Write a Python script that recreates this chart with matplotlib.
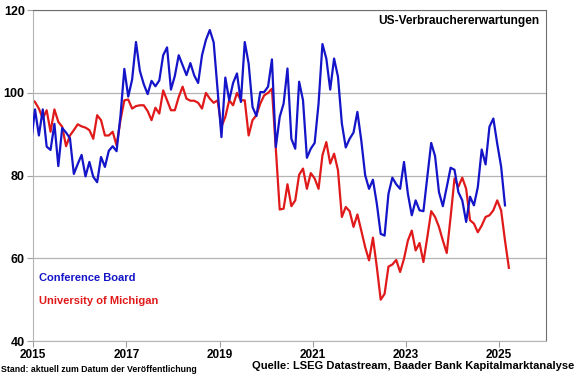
import numpy as np
import matplotlib
matplotlib.use("Agg")
import matplotlib.pyplot as plt

plt.rcParams["font.family"] = ["Liberation Sans", "DejaVu Sans"]
plt.rcParams["font.weight"] = "bold"

# monthly values, first value = Dec 2014
cb_values = [
    88,
    96, 89.7, 96, 87, 86.2, 92.5, 82.3, 91.5, 90.4, 89, 80.4, 82.8,
    85, 79.8, 83.3, 79.7, 78.4, 84.5, 82.1, 86, 87.1, 85.9, 94.4, 105.8,
    99.1, 103.2, 112.3, 105.3, 102.1, 99.7, 102.9, 101.6, 103, 109.1, 111, 100.8,
    104.1, 109.1, 106.7, 104.3, 107.2, 104.2, 102.4, 109.1, 112.8, 115.2, 112.2, 100.8,
    89.3, 103.7, 98.2, 102.4, 104.7, 97.8, 112.3, 107.1, 96.6, 94.4, 100.2, 100.2,
    101.5, 108.1, 86.9, 94.2, 97.4, 105.9, 88.9, 86.5, 102.7, 98.2, 84.3, 86.5,
    87.9, 97.4, 111.8, 108.3, 100.8, 108.3, 103.9, 92.6, 86.8, 88.9, 90.4, 95.4,
    88.5, 80.1, 76.8, 79, 73.2, 65.9, 65.5, 75.6, 79.5, 77.9, 76.8, 83.3,
    75.6, 70.4, 74, 71.6, 71.4, 79.7, 87.9, 84.7, 76, 72.6, 77.2, 81.9,
    81.4, 76, 74, 68.8, 74.9, 72.8, 77.2, 86.3, 82.7, 91.8, 93.8, 87.7,
    82.2, 72.8,
]
um_values = [
    98.5,
    97.8, 96.2, 93.8, 95.8, 90.6, 96, 93, 91.8, 87.1, 89.7, 91, 92.4,
    91.9, 91.6, 91, 88.9, 94.6, 93.4, 89.7, 89.7, 90.6, 87.3, 93.4, 98.2,
    98.4, 96.2, 96.8, 97, 97, 95.6, 93.4, 96.4, 95, 100.6, 98.2, 95.8,
    95.8, 99, 101.5, 98.6, 98.1, 98.1, 97.6, 96.2, 100, 98.6, 97.6, 98.2,
    91.8, 94.2, 98.2, 97, 100, 98.2, 98.2, 89.7, 93.4, 94.6, 97.4, 99.4,
    100, 101, 86.5, 71.8, 72, 77.9, 72.6, 74, 80.2, 81.7, 76.8, 80.6,
    79.3, 76.8, 84.9, 88.1, 82.9, 85.3, 81.3, 70, 72.4, 71.4, 67.6, 70.6,
    66.7, 62.7, 59.5, 65, 57.9, 50, 51.4, 58, 58.5, 59.6, 56.7, 59.9,
    64.3, 66.7, 61.9, 63.7, 59.1, 65.1, 71.4, 70, 67.6, 64.3, 61.3, 70,
    79.3, 77.3, 79.5, 76.8, 69.2, 68.4, 66.3, 67.9, 70, 70.4, 71.6, 74,
    71.6, 64.3, 57.7,
]
year_ticks = [2015, 2017, 2019, 2021, 2023, 2025]
value_ticks = [40, 60, 80, 100, 120]

# mid-month positions in decimal years, starting Dec 2014
cb_x = 2015 + (np.arange(len(cb_values)) - 0.5) / 12
um_x = 2015 + (np.arange(len(um_values)) - 0.5) / 12

fig = plt.figure(figsize=(5.8, 3.76), dpi=100)
ax = fig.add_axes([0.057, 0.093, 0.884, 0.88])

ax.plot(cb_x, cb_values, color="#1414c8", linewidth=1.6, zorder=3)
ax.plot(um_x, um_values, color="#e01a1a", linewidth=1.6, zorder=2)

ax.set_xlim(2015, 2026)
ax.set_ylim(40, 120)
ax.set_xticks(year_ticks)
ax.set_yticks(value_ticks)
ax.set_xticklabels([str(y) for y in year_ticks], fontsize=8.5, fontweight="bold")
ax.set_yticklabels([str(v) for v in value_ticks], fontsize=9, fontweight="bold")
ax.tick_params(axis="both", direction="out", length=4, color="#a0a0a0", pad=2)
ax.grid(axis="y", color="#b4b4b4", linewidth=0.9)
ax.set_axisbelow(True)

for side in ["left", "bottom"]:
    ax.spines[side].set_color("#b4b4b4")
for side in ["top", "right"]:
    ax.spines[side].set_color("#6e6e6e")

ax.text(0.988, 0.966, "US-Verbrauchererwartungen", transform=ax.transAxes,
        ha="right", va="center", fontsize=8.6, fontweight="bold")
ax.text(0.012, 0.19, "Conference Board", transform=ax.transAxes,
        color="#1414c8", fontsize=8, fontweight="bold", va="center")
ax.text(0.012, 0.121, "University of Michigan", transform=ax.transAxes,
        color="#e01a1a", fontsize=8, fontweight="bold", va="center")

fig.text(0.002, 0.016, "Stand: aktuell zum Datum der Veröffentlichung",
         fontsize=6.3, fontweight="bold", va="center")
fig.text(0.99, 0.026, "Quelle: LSEG Datastream, Baader Bank Kapitalmarktanalyse",
         fontsize=8, fontweight="bold", ha="right", va="center")

fig.savefig("out.png", dpi=100)
